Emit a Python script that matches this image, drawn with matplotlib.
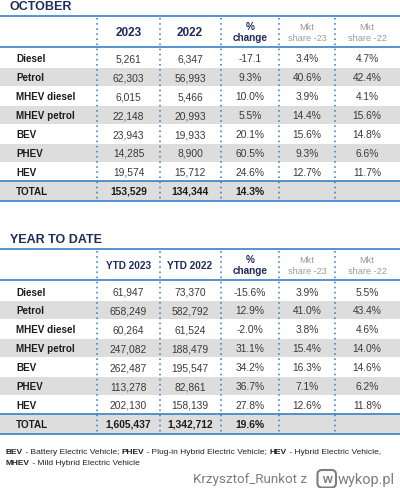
import matplotlib

matplotlib.use("Agg")
import matplotlib.pyplot as plt
from matplotlib.patches import Rectangle, FancyBboxPatch

plt.rcParams["font.family"] = ["Liberation Sans", "DejaVu Sans"]

# ---- data ----
categories = ["Diesel", "Petrol", "MHEV diesel", "MHEV petrol", "BEV", "PHEV", "HEV"]

oct_2023 = [5261, 62303, 6015, 22148, 23943, 14285, 19574]
oct_2022 = [6347, 56993, 5466, 20993, 19933, 8900, 15712]
oct_change = ["-17.1", "9.3%", "10.0%", "5.5%", "20.1%", "60.5%", "24.6%"]
oct_share_23 = [3.4, 40.6, 3.9, 14.4, 15.6, 9.3, 12.7]
oct_share_22 = [4.7, 42.4, 4.1, 15.6, 14.8, 6.6, 11.7]
oct_total = [153529, 134344]
oct_total_change = 14.3

ytd_2023 = [61947, 658249, 60264, 247082, 262487, 113278, 202130]
ytd_2022 = [73370, 582792, 61524, 188479, 195547, 82861, 158139]
ytd_change = [-15.6, 12.9, -2.0, 31.1, 34.2, 36.7, 27.8]
ytd_share_23 = [3.9, 41.0, 3.8, 15.4, 16.3, 7.1, 12.6]
ytd_share_22 = [5.5, 43.4, 4.6, 14.0, 14.6, 6.2, 11.8]
ytd_total = [1605437, 1342712]
ytd_total_change = 19.6

oct_headers = ["2023", "2022", "%\nchange", "Mkt\nshare -23", "Mkt\nshare -22"]
ytd_headers = ["YTD 2023", "YTD 2022", "%\nchange", "Mkt\nshare -23", "Mkt\nshare -22"]

footnote = [
    [("BEV", True), (" - Battery Electric Vehicle; ", False), ("PHEV", True),
     (" - Plug-in Hybrid Electric Vehicle; ", False), ("HEV", True),
     (" - Hybrid Electric Vehicle,", False)],
    [("MHEV", True), (" - Mild Hybrid Electric Vehicle", False)],
]

# ---- style ----
NAVY = "#1f2b5b"
BLUE = "#3a80c4"
GRAY_BG = "#dddddd"
VAL = "#3a3a3a"
LBL = "#1c1c1c"
MUTED = "#9a9a9a"

col_x = [128.5, 190, 250, 307, 367]
sep_x = [97, 160, 220.5, 279, 335]
PITCH = 18.9

fig = plt.figure(figsize=(4, 4.89), dpi=100)
ax = fig.add_axes([0, 0, 1, 1])
ax.set_xlim(0, 400)
ax.set_ylim(489, 0)
ax.axis("off")


def draw_section(title, top, headers, head_size, v23, v22, chg, s23, s22, totals, tot_chg):
    ax.text(10, top - 9.8, title, fontsize=9, fontweight="bold", color=NAVY,
            ha="left", va="center")
    head_bot = top + 30.5
    first = head_bot + 12
    centers = [first + i * PITCH for i in range(len(categories))]
    tot_top = centers[-1] + 9.4
    tot_c = tot_top + 9.7
    bottom = tot_top + 19.3

    # striped rows + total background
    for i, c in enumerate(centers):
        if i % 2 == 1:
            ax.add_patch(Rectangle((0, c - 9), 400, 18, color=GRAY_BG, lw=0, zorder=0))
    ax.add_patch(Rectangle((0, tot_top), 400, bottom - tot_top, color=GRAY_BG, lw=0, zorder=0))

    # rules
    for y in (top, head_bot, tot_top, bottom):
        ax.plot([0, 400], [y, y], color=BLUE, lw=1.2, solid_capstyle="butt", zorder=2)
    for x in sep_x:
        ax.plot([x, x], [top + 2, bottom - 1], color=BLUE, lw=1.15,
                linestyle=(0, (1, 2.2)), zorder=2)

    # headers
    hc = (top + head_bot) / 2 + 0.5
    for j, h in enumerate(headers):
        if j < 2:
            ax.text(col_x[j], hc, h, fontsize=head_size, fontweight="bold", color=NAVY,
                    ha="center", va="center")
        elif j == 2:
            ax.text(col_x[j], hc, h, fontsize=7.2, fontweight="bold", color=NAVY,
                    ha="center", va="center", linespacing=1.15)
        else:
            ax.text(col_x[j], hc, h, fontsize=6.6, color=MUTED,
                    ha="center", va="center", linespacing=1.25)

    # body
    for i, c in enumerate(centers):
        ax.text(16, c, categories[i], fontsize=7.1, fontweight="bold", color=LBL,
                ha="left", va="center")
        cells = [f"{v23[i]:,}", f"{v22[i]:,}",
                 chg[i] if isinstance(chg[i], str) else f"{chg[i]:.1f}%",
                 f"{s23[i]:.1f}%", f"{s22[i]:.1f}%"]
        for j, s in enumerate(cells):
            ax.text(col_x[j], c, s, fontsize=7.4, color=VAL, ha="center", va="center")

    ax.text(16, tot_c, "TOTAL", fontsize=7.1, fontweight="bold", color=LBL,
            ha="left", va="center")
    for j, s in enumerate([f"{totals[0]:,}", f"{totals[1]:,}", f"{tot_chg:.1f}%"]):
        ax.text(col_x[j], tot_c, s, fontsize=7.4, fontweight="bold", color=LBL,
                ha="center", va="center")


draw_section("OCTOBER", 17, oct_headers, 8.5, oct_2023, oct_2022, oct_change,
             oct_share_23, oct_share_22, oct_total, oct_total_change)
draw_section("YEAR TO DATE", 250, ytd_headers, 7.2, ytd_2023, ytd_2022, ytd_change,
             ytd_share_23, ytd_share_22, ytd_total, ytd_total_change)

# footnote, bold/regular segments chained one after another
for k, line in enumerate(footnote):
    prev = None
    for seg, bold in line:
        w = "bold" if bold else "normal"
        if prev is None:
            prev = ax.text(6, 452.5 + k * 10.8, seg, fontsize=6.0, fontweight=w,
                           color="#222222", ha="left", va="center")
        else:
            prev = ax.annotate(seg, xy=(1, 0), xycoords=prev, fontsize=6.0, fontweight=w,
                               color="#222222", ha="left", va="bottom")

# watermark
ax.text(307, 480, "Krzysztof_Runkot z", fontsize=9.6, color="#7d7d7d",
        ha="right", va="center", family=["Roboto", "DejaVu Sans"])
ax.add_patch(FancyBboxPatch((317.5, 471), 18.5, 17.5, boxstyle="round,pad=0,rounding_size=4.5",
                            fc="none", ec="#7d7d7d", lw=1.5))
ax.text(326.8, 479.8, "w", fontsize=9, fontweight="bold", color="#7d7d7d",
        ha="center", va="center")
ax.text(338, 480, "wykop.pl", fontsize=10.5, color="#7d7d7d",
        ha="left", va="center", family=["Roboto", "DejaVu Sans"])

fig.savefig("out.png", dpi=100)
